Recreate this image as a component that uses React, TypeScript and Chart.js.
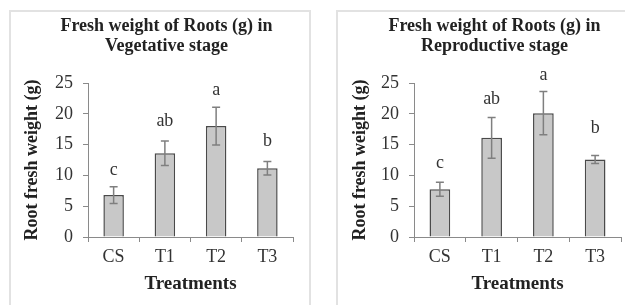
import React, { useEffect, useRef } from "react";
import { Chart, registerables } from "chart.js";

Chart.register(...registerables);

// ---- data ----
const categories = ["CS", "T1", "T2", "T3"];
const yTickValues = [0, 5, 10, 15, 20, 25];

const vegetativeTitle = ["Fresh weight of Roots (g) in", "Vegetative stage"];
const vegetativeMeans = [6.8, 13.6, 18.0, 11.15];
const vegetativeErrors = [1.35, 2.0, 3.05, 1.1];
const vegetativeLetters = ["c", "ab", "a", "b"];
const vegetativeLetterY = [10.9, 18.8, 23.9, 15.5];

const reproductiveTitle = ["Fresh weight of Roots (g) in", "Reproductive stage"];
const reproductiveMeans = [7.75, 16.1, 20.1, 12.6];
const reproductiveErrors = [1.15, 3.3, 3.5, 0.65];
const reproductiveLetters = ["c", "ab", "a", "b"];
const reproductiveLetterY = [11.9, 22.3, 26.2, 17.7];

const xTitle = "Treatments";
const yTitle = "Root fresh weight (g)";

// ---- style ----
const FONT = '"Liberation Serif", "Times New Roman", serif';
const AXIS = "#8a8a8a";
const TEXT = "#333333";
const BOLD_TEXT = "#222222";

type PanelProps = {
  title: string[];
  means: number[];
  errors: number[];
  letters: string[];
  letterY: number[];
  left: number;
  width: number;
  padL: number;
  padR: number;
  yWidth: number;
};

const errorPlugin = {
  id: "errorBarsAndLetters",
  afterDatasetsDraw(chart: any) {
    const cfg = chart.options.plugins.errorBarsAndLetters;
    if (!cfg) return;
    const { errors, letters, letterY, means } = cfg;
    const xs = chart.scales.x;
    const ys = chart.scales.y;
    const ctx = chart.ctx;
    ctx.save();
    ctx.strokeStyle = "#7f7f7f";
    ctx.lineWidth = 1.5;
    means.forEach((m: number, i: number) => {
      const x = xs.getPixelForValue(i);
      const yHi = ys.getPixelForValue(m + errors[i]);
      const yLo = ys.getPixelForValue(m - errors[i]);
      ctx.beginPath();
      ctx.moveTo(x, yHi);
      ctx.lineTo(x, yLo);
      ctx.moveTo(x - 4, yHi);
      ctx.lineTo(x + 4, yHi);
      ctx.moveTo(x - 4, yLo);
      ctx.lineTo(x + 4, yLo);
      ctx.stroke();
    });
    ctx.fillStyle = TEXT;
    ctx.font = `18px ${FONT}`;
    ctx.textAlign = "center";
    ctx.textBaseline = "middle";
    letters.forEach((t: string, i: number) => {
      ctx.fillText(t, xs.getPixelForValue(i), ys.getPixelForValue(letterY[i]));
    });
    ctx.restore();
  },
};

function Panel(p: PanelProps) {
  const ref = useRef<HTMLCanvasElement | null>(null);
  useEffect(() => {
    if (!ref.current) return;
    const chart = new Chart(ref.current, {
      type: "bar",
      data: {
        labels: categories,
        datasets: [
          {
            data: p.means,
            backgroundColor: "#c8c8c8",
            borderColor: "#4a4a4a",
            borderWidth: 1.5,
            barPercentage: 0.4,
            categoryPercentage: 1,
          },
        ],
      },
      options: {
        responsive: false,
        animation: false,
        devicePixelRatio: 1,
        layout: { padding: { left: p.padL, right: p.padR, top: 0, bottom: 0 } },
        plugins: {
          legend: { display: false },
          tooltip: { enabled: false },
          title: {
            display: true,
            text: p.title,
            color: BOLD_TEXT,
            font: { family: FONT, size: 18, weight: "bold", lineHeight: 20 / 18 },
            padding: { top: 16.7, bottom: 26.3 },
          },
          errorBarsAndLetters: {
            means: p.means,
            errors: p.errors,
            letters: p.letters,
            letterY: p.letterY,
          },
        } as any,
        scales: {
          x: {
            grid: {
              display: true,
              drawOnChartArea: false,
              drawTicks: true,
              tickLength: 5,
              color: AXIS,
              offset: true,
            },
            border: { display: true, color: AXIS, width: 1 },
            ticks: { font: { family: FONT, size: 18 }, color: TEXT, padding: 4 },
            title: {
              display: true,
              text: xTitle,
              color: BOLD_TEXT,
              font: { family: FONT, size: 19, weight: "bold" },
              padding: { top: 0, bottom: 10 },
            },
            afterFit: (s: any) => {
              s.height = 68;
            },
          },
          y: {
            min: 0,
            max: 25,
            afterBuildTicks: (s: any) => {
              s.ticks = yTickValues.map((v) => ({ value: v }));
            },
            grid: {
              display: true,
              drawOnChartArea: false,
              drawTicks: true,
              tickLength: 5,
              color: AXIS,
            },
            border: { display: true, color: AXIS, width: 1 },
            ticks: { font: { family: FONT, size: 18 }, color: TEXT, padding: 10 },
            title: {
              display: true,
              text: yTitle,
              color: BOLD_TEXT,
              font: { family: FONT, size: 18, weight: "bold" },
              padding: { top: -18, bottom: 0 },
            },
            afterFit: (s: any) => {
              s.width = p.yWidth;
            },
          },
        },
      } as any,
      plugins: [errorPlugin],
    });
    return () => chart.destroy();
  }, []);
  return (
    <canvas
      ref={ref}
      width={p.width}
      height={305}
      style={{ position: "absolute", left: p.left, top: 0, width: p.width, height: 305, zIndex: 2 }}
    />
  );
}

export default function App() {
  return (
    <div
      style={{
        position: "absolute",
        left: 0,
        top: 0,
        width: 625,
        height: 305,
        overflow: "hidden",
        background: "#fff",
      }}
    >
      <div
        style={{
          position: "absolute",
          left: 9,
          top: 10,
          width: 302,
          height: 320,
          boxSizing: "border-box",
          border: "2px solid #e2e2e2",
          zIndex: 1,
        }}
      />
      <div
        style={{
          position: "absolute",
          left: 336,
          top: 10,
          width: 400,
          height: 320,
          boxSizing: "border-box",
          border: "2px solid #e2e2e2",
          zIndex: 1,
        }}
      />
      <Panel
        title={vegetativeTitle}
        means={vegetativeMeans}
        errors={vegetativeErrors}
        letters={vegetativeLetters}
        letterY={vegetativeLetterY}
        left={10}
        width={300}
        padL={30}
        padR={17}
        yWidth={48}
      />
      <Panel
        title={reproductiveTitle}
        means={reproductiveMeans}
        errors={reproductiveErrors}
        letters={reproductiveLetters}
        letterY={reproductiveLetterY}
        left={337}
        width={288}
        padL={31}
        padR={4}
        yWidth={46}
      />
    </div>
  );
}
